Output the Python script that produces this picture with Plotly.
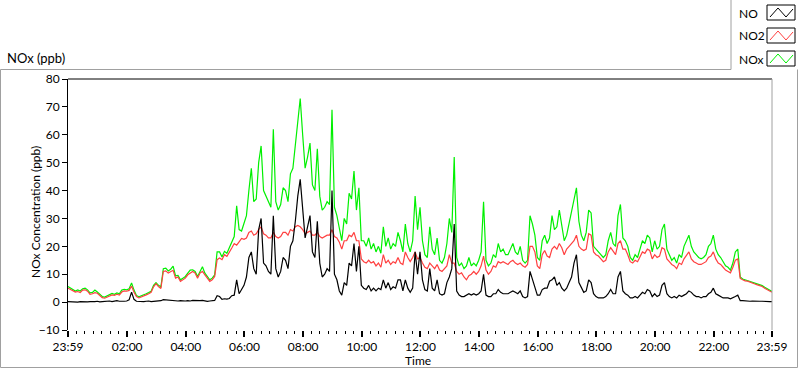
import pandas as pd
import plotly.graph_objects as go

# ---------------- data (5-minute readings, 23:59 -> 23:59) ----------------
start_time = "2015-01-01 23:59"
step_minutes = 5

no2_ppb = [
    5.0, 4.6, 4.2, 3.6, 3.8, 3.4, 4.3, 4.4, 3.9, 2.8, 3.0, 3.4,
    3.2, 2.2, 1.6, 1.4, 1.9, 2.3, 2.6, 2.4, 2.8, 2.5, 3.6, 4.0,
    3.9, 4.2, 5.8, 3.5, 2.0, 1.5, 1.8, 2.3, 2.6, 3.0, 3.5, 5.5,
    6.6, 5.6, 4.9, 11.0, 11.2, 10.4, 11.0, 11.4, 8.6, 9.0, 7.4, 8.0,
    8.6, 9.8, 10.4, 11.0, 10.4, 8.6, 10.4, 11.0, 9.8, 8.6, 7.4, 8.0,
    9.2, 15.2, 15.8, 15.2, 17.0, 16.4, 18.2, 19.4, 21.0, 20.4, 21.6, 22.8,
    22.5, 23, 25, 25.5, 24, 24.5, 26, 27, 24.5, 24, 23, 23,
    25, 23.5, 23, 23.5, 25, 25, 24, 26, 25.5, 27, 27.5, 27,
    26, 24.5, 25, 25.5, 24, 24, 25, 23.5, 23, 23.5, 24, 24,
    26, 23.5, 23, 21.5, 19, 22, 22, 24, 23.5, 25, 22, 22,
    15.5, 14.5, 14, 15, 14, 14.5, 13, 14, 12.5, 17, 14, 15,
    13.5, 14.5, 14, 16, 14, 13.5, 18, 16, 14.5, 16, 18, 15.5,
    16, 14, 12.5, 12, 14, 13, 12, 13.5, 11.5, 11, 12, 13,
    17, 14, 14, 11, 10, 10.5, 9, 8, 9.5, 10, 11, 10,
    11, 13, 16.5, 11.5, 10, 11, 13, 12.5, 14.5, 14, 14.5, 14,
    13.5, 14.5, 15, 14, 13.5, 14, 13, 12.5, 13.5, 20, 20, 18,
    13, 12, 17, 18.5, 16.5, 16, 19, 20, 19, 21, 19.5, 17,
    19, 20, 21, 22, 24, 20, 19, 18.5, 19, 24.5, 24, 18,
    17, 16.5, 15.5, 14.5, 15, 18, 19.5, 18, 17, 21, 22, 19,
    19, 17, 14.5, 14, 15, 14.5, 16, 18, 17.5, 19, 18.5, 15.5,
    17, 16, 16.5, 19.5, 19, 15.5, 14.5, 13.5, 13, 12, 14, 13.5,
    15.5, 17, 18, 15.5, 14.5, 14, 13.5, 13.5, 14, 14.5, 16, 16.5,
    18, 15.5, 14, 13.5, 12.5, 11.5, 11, 10.5, 12.5, 15, 15.5, 8.5,
    8.0, 7.6, 7.5, 7.1, 6.9, 6.5, 6.2, 5.9, 5.6, 5.0, 4.5, 3.9, 3.5,
]

nox_ppb = [
    5.6, 5.0, 4.7, 4.0, 4.4, 4.0, 4.8, 5.0, 4.4, 3.3, 3.5, 4.3,
    3.6, 2.6, 2.0, 1.8, 2.3, 2.7, 3.1, 2.8, 3.3, 3.0, 4.3, 4.6,
    4.4, 4.8, 6.9, 4.3, 2.4, 1.9, 2.2, 2.7, 3.0, 3.4, 3.9, 6.0,
    7.0, 6.0, 5.5, 12.0, 12.2, 11.2, 11.8, 12.9, 9.4, 9.6, 8.0, 8.6,
    9.2, 10.4, 11.5, 11.6, 11.0, 9.2, 11.0, 12.7, 10.4, 9.2, 8.0, 8.6,
    9.8, 18.0, 18.0, 16.2, 18.2, 17.5, 19.5, 21.7, 23.5, 34.5, 26.0, 25.5,
    28, 31, 40, 48, 36, 37, 50, 56, 40, 38, 36, 34,
    62, 36, 33, 35, 41, 40, 36, 46, 48, 56, 66, 73,
    60, 48, 52, 57, 42, 40, 55, 38, 33, 34, 36, 35,
    69, 34, 31, 26, 22, 30, 28, 39, 37, 47, 33, 41,
    22, 22, 20, 23, 19, 21, 18, 20, 17.5, 27, 20, 23,
    19, 21, 20, 25, 22, 18, 28, 21, 18, 22, 38, 26,
    34, 22, 17, 16, 27, 19, 17, 23, 15, 14, 16, 21,
    30, 25, 52, 16, 13, 14, 12, 13, 16, 13, 14, 13,
    15, 18, 36, 15, 13, 14, 17, 16, 21, 18, 19, 17,
    17, 19, 21, 18, 17, 20, 15, 14, 15, 31, 28, 24,
    16, 15, 22, 24, 21, 23, 31, 26, 27, 33, 27, 22,
    24, 28, 32, 36, 41, 29, 24, 22, 25, 33, 32, 20,
    19, 18, 17, 16, 17, 22, 25, 21, 20, 31, 35, 23,
    22, 20, 16, 15, 17, 16, 19, 22, 21, 24, 23, 18,
    22, 19, 20, 26, 28, 19, 17, 15, 16, 14, 17, 16,
    20, 22, 24, 20, 18, 17, 16, 15.5, 16, 17, 20, 21,
    24, 19, 17, 16, 14.5, 13, 12.5, 11.5, 14, 18, 19, 9,
    8.3, 8.0, 7.8, 7.4, 7.3, 6.8, 6.5, 6.2, 5.9, 5.3, 4.8, 4.2, 3.8,
]

no_ppb = [
    0.2, 0.1, 0.2, 0.1, 0.0, 0.2, 0.1, 0.2, 0.1, 0.2, 0.1, 0.2,
    0.3, 0.1, 0.2, 0.3, 0.2, 0.4, 0.2, 0.3, 0.5, 0.3, 0.2, 0.3,
    0.4, 0.8, 3.6, 1.0, 0.3, 0.2, 0.3, 0.2, 0.3, 0.4, 0.2, 0.3,
    0.3, 0.4, 0.5, 0.9, 0.8, 0.6, 0.5, 0.6, 0.5, 0.4, 0.5, 0.4,
    0.4, 0.5, 0.4, 0.6, 0.5, 0.4, 0.5, 0.6, 0.4, 0.3, 0.4, 0.5,
    0.6, 2.3, 2.0, 1.0, 1.2, 1.1, 1.3, 2.3, 2.5, 8.0, 3.0, 4.5,
    6, 9, 16, 18, 12, 10, 26, 30, 14, 13, 11, 10,
    31, 12, 9, 11, 16, 15, 12, 20, 22, 29, 38, 44,
    34, 23, 27, 31, 18, 16, 29, 14, 9, 10, 12, 11,
    40, 10, 8, 4, 2.5, 7, 6, 14, 13, 21, 11, 20,
    6, 5, 4.5, 6, 4, 5, 4, 5, 4.5, 8, 5, 7,
    4.5, 5.5, 5, 8, 8, 4, 8, 5, 3.5, 5, 18, 10,
    18, 8, 4.5, 4, 12, 5, 4, 8, 3, 2.5, 3, 7,
    9, 12, 28, 4, 2.5, 2, 2, 2.5, 3, 2.5, 3, 2.5,
    3, 4, 10, 2.5, 2, 2, 3, 3, 4.5, 3.5, 3, 3,
    3, 3.5, 4, 3.5, 3, 4, 2, 1.5, 2, 11, 8, 5,
    2.5, 2.5, 4.5, 5, 5, 7.5, 8, 9, 6, 7, 5, 4,
    5, 7, 9, 14, 17, 7, 5, 3.5, 4, 8, 7, 3,
    2, 1.5, 1.5, 1.5, 2, 3, 4.5, 3, 3, 9, 11, 4,
    3, 2.5, 1.5, 1.5, 2, 1.5, 2.5, 3.5, 3, 4.5, 4, 2,
    3, 2, 2.5, 6, 7, 3, 2, 1.5, 2, 1.5, 2.5, 2,
    2.5, 3, 4, 3.5, 2.5, 2, 2, 1.5, 2, 2, 3, 3.5,
    5, 3, 2.5, 2, 1.5, 1.5, 1.5, 1.2, 1.5, 2, 2.5, 0.5,
    0.5, 0.4, 0.4, 0.3, 0.4, 0.3, 0.3, 0.3, 0.3, 0.2, 0.3, 0.2, 0.2,
]

x_tick_times = ["2015-01-01 23:59", "2015-01-02 02:00", "2015-01-02 04:00",
                "2015-01-02 06:00", "2015-01-02 08:00", "2015-01-02 10:00",
                "2015-01-02 12:00", "2015-01-02 14:00", "2015-01-02 16:00",
                "2015-01-02 18:00", "2015-01-02 20:00", "2015-01-02 22:00",
                "2015-01-02 23:59"]
x_tick_labels = ["23:59", "02:00", "04:00", "06:00", "08:00", "10:00", "12:00",
                 "14:00", "16:00", "18:00", "20:00", "22:00", "23:59"]
y_ticks = [-10, 0, 10, 20, 30, 40, 50, 60, 70, 80]

series_names = ["NO", "NO2", "NOx"]
series_colors = ["#000000", "#ff4040", "#00f000"]

# ---------------------------------------------------------------------------
times = pd.date_range(start_time, periods=len(no_ppb), freq=f"{step_minutes}min")

FONT = "Lato"
FS = 12
W, H = 800, 369
L, R, T, B = 68, 28, 79, 39
PW, PH = W - L - R, H - T - B


def px(x):
    return (x - L) / PW


def py(y):
    return (H - B - y) / PH


fig = go.Figure()
# draw order: NOx, NO2, NO (NO2 over NOx, NO on top)
for name, vals, col in [("NOx", nox_ppb, series_colors[2]),
                        ("NO2", no2_ppb, series_colors[1]),
                        ("NO", no_ppb, series_colors[0])]:
    fig.add_trace(go.Scatter(x=times, y=vals, mode="lines", name=name,
                             line=dict(color=col, width=1.2), showlegend=False))

# minor ticks: 6 between each pair of major ticks
maj = pd.to_datetime(x_tick_times)
minor_vals = []
for a, b in zip(maj[:-1], maj[1:]):
    for k in range(1, 7):
        minor_vals.append(a + (b - a) * k / 7)

fig.update_layout(
    width=W, height=H,
    margin=dict(l=L, r=R, t=T, b=B, pad=0),
    paper_bgcolor="white", plot_bgcolor="white",
    font=dict(family=FONT, size=FS, color="#000000"),
    xaxis=dict(type="date", range=[times[0], times[-1]],
               tickmode="array", tickvals=x_tick_times, ticktext=x_tick_labels,
               ticks="outside", ticklen=6, tickwidth=2, tickcolor="#000000",
               showgrid=False, zeroline=False, showline=False,
               tickfont=dict(family=FONT, size=FS, color="#000000"),
               minor=dict(tickmode="array", tickvals=minor_vals, ticks="outside",
                          ticklen=3, tickwidth=1, tickcolor="#000000", showgrid=False)),
    yaxis=dict(range=[-10, 80], tickmode="array", tickvals=y_ticks,
               ticks="outside", ticklen=5, tickwidth=1, tickcolor="#000000",
               showgrid=False, zeroline=False, showline=True,
               linecolor="#000000", linewidth=1,
               tickfont=dict(family=FONT, size=FS, color="#000000")),
)

shapes = []
GRAY = "#a0a0a0"
# plot frame: top black, right gray
shapes.append(dict(type="line", xref="paper", yref="paper", x0=px(68), x1=px(772),
                   y0=py(79), y1=py(79), line=dict(color="#000000", width=1)))
shapes.append(dict(type="line", xref="paper", yref="paper", x0=px(772), x1=px(772),
                   y0=py(79), y1=py(330), line=dict(color=GRAY, width=1)))
# outer panel frame
panel = f"M {px(731)},{py(0)} L {px(731)},{py(69.5)} L {px(0.5)},{py(69.5)} " \
        f"L {px(0.5)},{py(367.5)} L {px(797.5)},{py(367.5)} L {px(797.5)},{py(69.5)}"
shapes.append(dict(type="path", xref="paper", yref="paper", path=panel,
                   line=dict(color=GRAY, width=1)))

# legend swatches
box_tops = [5, 28, 51]
for name, col, top in zip(series_names, series_colors, box_tops):
    shapes.append(dict(type="rect", xref="paper", yref="paper",
                       x0=px(767), x1=px(795), y0=py(top), y1=py(top + 15),
                       line=dict(color="#000000", width=1), fillcolor="white"))
    zz = [(770, top + 12), (778, top + 3), (786, top + 12), (793, top + 4)]
    path = "M " + " L ".join(f"{px(a)},{py(b)}" for a, b in zz)
    shapes.append(dict(type="path", xref="paper", yref="paper", path=path,
                       line=dict(color=col, width=1)))

annotations = []
for name, top in zip(series_names, box_tops):
    annotations.append(dict(text=name, xref="paper", yref="paper", x=px(737),
                            y=py(top + 8), xanchor="left", yanchor="middle",
                            showarrow=False, font=dict(family=FONT, size=12)))
annotations.append(dict(text="NOx (ppb)", xref="paper", yref="paper", x=px(5),
                        y=py(58), xanchor="left", yanchor="middle", showarrow=False,
                        font=dict(family=FONT, size=13)))
annotations.append(dict(text="NOx Concentration (ppb)", xref="paper", yref="paper",
                        x=px(35), y=py(212), xanchor="center", yanchor="middle",
                        textangle=-90, showarrow=False,
                        font=dict(family=FONT, size=FS)))
annotations.append(dict(text="Time", xref="paper", yref="paper", x=px(418),
                        y=py(360), xanchor="center", yanchor="middle",
                        showarrow=False, font=dict(family=FONT, size=FS)))

fig.update_layout(shapes=shapes, annotations=annotations)
fig.write_html("out.html", config={"displayModeBar": False},
               post_script="document.body.style.margin='0';")
